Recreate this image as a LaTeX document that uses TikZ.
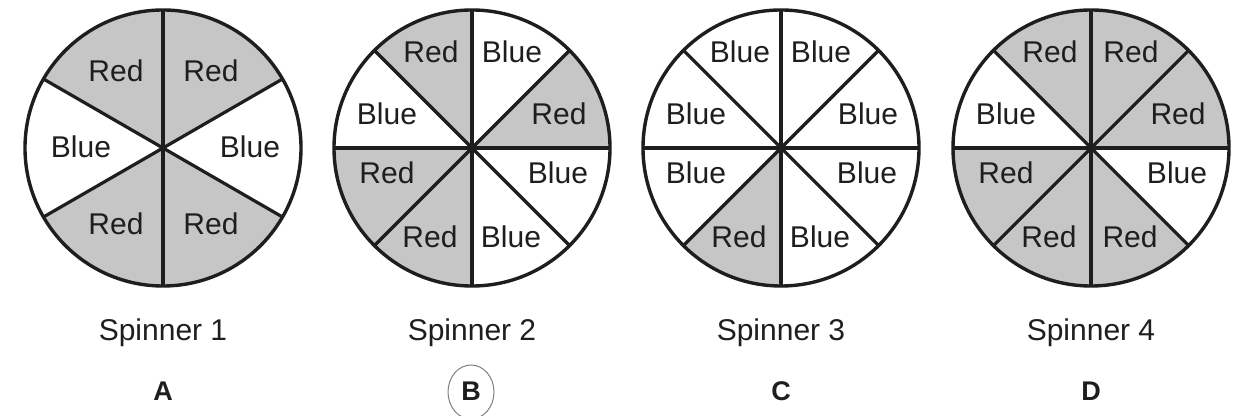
\documentclass[tikz,border=0pt]{standalone}
\usepackage{fontspec}
\setmainfont{Liberation Sans}
\definecolor{sectorgray}{RGB}{198,198,198}
\definecolor{ink}{RGB}{30,30,30}
\begin{document}
\begin{tikzpicture}[x=1pt,y=1pt,
  lbl/.style={anchor=base,inner sep=0pt,text=ink,font=\fontsize{30}{36}\selectfont},
  caption/.style={anchor=base,inner sep=0pt,text=ink,font=\fontsize{30}{36}\selectfont},
  letter/.style={anchor=base,inner sep=0pt,text=ink,font=\fontsize{27}{32}\selectfont\bfseries},
  rim/.style={circle,draw=ink,line width=3.4pt,minimum size=276pt,inner sep=0pt},
  spoke/.style={draw=ink,line width=3.2pt},
  redsector/.style={fill=sectorgray},
  ring/.style={draw=black!50,line width=1pt}]
\useasboundingbox (0,0) rectangle (1241,415);
\fill[white] (0,0) rectangle (1241,415);

% ---------- Spinner 1 ----------
\begin{scope}[shift={(163,267)}]
  \foreach \a in {30,90,210,270}
    \path[redsector] (0,0) -- (\a:138) arc[start angle=\a,end angle=\a+60,radius=138] -- cycle;
  \foreach \a in {30,90,...,330} \draw[spoke] (0,0) -- (\a:138);
  \node[rim] (s1) at (0,0) {};
  \node[lbl] (s1t1) at (-47,66) {Red};
  \node[lbl] (s1t2) at (48,66) {Red};
  \node[lbl] (s1t3) at (-82,-10) {Blue};
  \node[lbl] (s1t4) at (87,-10) {Blue};
  \node[lbl] (s1t5) at (-47,-87) {Red};
  \node[lbl] (s1t6) at (48,-87) {Red};
\end{scope}

% ---------- Spinner 2 ----------
\begin{scope}[shift={(472,267)}]
  \foreach \a in {0,90,180,225}
    \path[redsector] (0,0) -- (\a:138) arc[start angle=\a,end angle=\a+45,radius=138] -- cycle;
  \foreach \a in {0,45,...,315} \draw[spoke] (0,0) -- (\a:138);
  \node[rim] (s2) at (0,0) {};
  \node[lbl] (s2t1) at (-41,85) {Red};
  \node[lbl] (s2t2) at (40,85) {Blue};
  \node[lbl] (s2t3) at (-85,23) {Blue};
  \node[lbl] (s2t4) at (87,23) {Red};
  \node[lbl] (s2t5) at (-85,-36) {Red};
  \node[lbl] (s2t6) at (86,-36) {Blue};
  \node[lbl] (s2t7) at (-42,-100) {Red};
  \node[lbl] (s2t8) at (39,-100) {Blue};
\end{scope}

% ---------- Spinner 3 ----------
\begin{scope}[shift={(781,267)}]
  \foreach \a in {225}
    \path[redsector] (0,0) -- (\a:138) arc[start angle=\a,end angle=\a+45,radius=138] -- cycle;
  \foreach \a in {0,45,...,315} \draw[spoke] (0,0) -- (\a:138);
  \node[rim] (s3) at (0,0) {};
  \node[lbl] (s3t1) at (-41,85) {Blue};
  \node[lbl] (s3t2) at (40,85) {Blue};
  \node[lbl] (s3t3) at (-85,23) {Blue};
  \node[lbl] (s3t4) at (87,23) {Blue};
  \node[lbl] (s3t5) at (-85,-36) {Blue};
  \node[lbl] (s3t6) at (86,-36) {Blue};
  \node[lbl] (s3t7) at (-42,-100) {Red};
  \node[lbl] (s3t8) at (39,-100) {Blue};
\end{scope}

% ---------- Spinner 4 ----------
\begin{scope}[shift={(1091,267)}]
  \foreach \a in {0,45,90,180,225,270}
    \path[redsector] (0,0) -- (\a:138) arc[start angle=\a,end angle=\a+45,radius=138] -- cycle;
  \foreach \a in {0,45,...,315} \draw[spoke] (0,0) -- (\a:138);
  \node[rim] (s4) at (0,0) {};
  \node[lbl] (s4t1) at (-41,85) {Red};
  \node[lbl] (s4t2) at (40,85) {Red};
  \node[lbl] (s4t3) at (-85,23) {Blue};
  \node[lbl] (s4t4) at (87,23) {Red};
  \node[lbl] (s4t5) at (-85,-36) {Red};
  \node[lbl] (s4t6) at (86,-36) {Blue};
  \node[lbl] (s4t7) at (-42,-100) {Red};
  \node[lbl] (s4t8) at (39,-100) {Red};
\end{scope}

% ---------- captions ----------
\node[caption] (c1) at (163,75) {Spinner 1};
\node[caption] (c2) at (472,75) {Spinner 2};
\node[caption] (c3) at (781,75) {Spinner 3};
\node[caption] (c4) at (1091,75) {Spinner 4};

\node[letter] (lA) at (163,15) {A};
\node[letter] (lB) at (471,15) {B};
\node[letter] (lC) at (781,15) {C};
\node[letter] (lD) at (1091,15) {D};

% hand-drawn ring round the answer B
\draw[ring] (471,23) ellipse [x radius=23, y radius=27];
\end{tikzpicture}
\end{document}
